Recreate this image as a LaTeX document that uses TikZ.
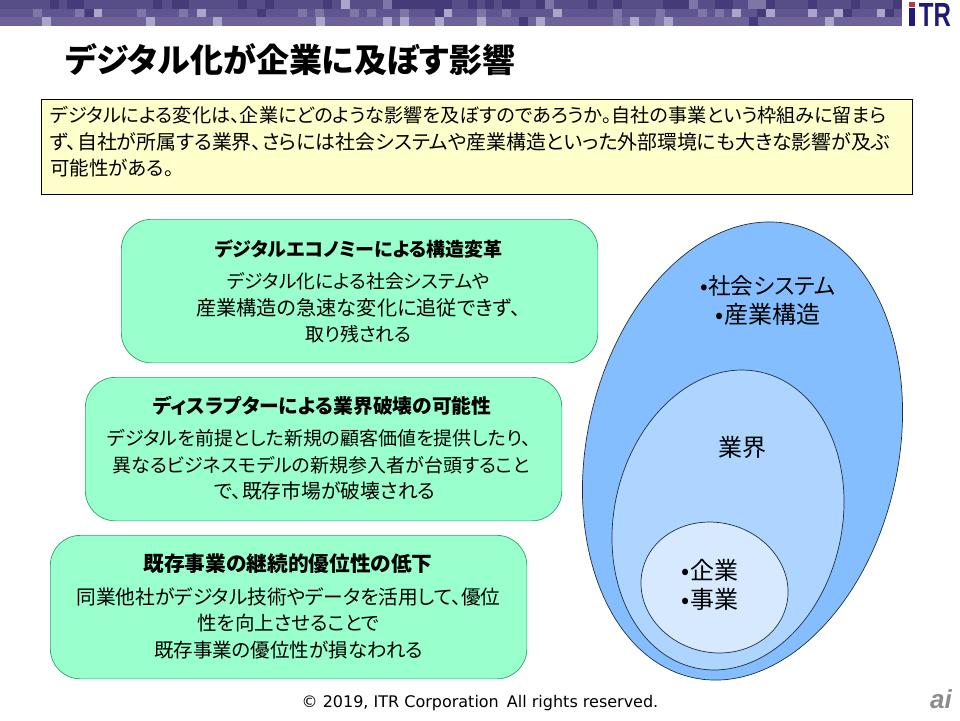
\documentclass[tikz,border=0pt]{standalone}
\usepackage{fontspec}
\setmainfont[RawFeature=+palt]{Noto Sans CJK JP}
\newfontfamily\latinfont{DejaVu Sans}
\newfontfamily\logofont{Liberation Sans}
\usetikzlibrary{shapes.geometric}
\newcommand{\lineSize}[1]{\fontsize{#1pt}{26.5pt}\selectfont}
\definecolor{bandA}{HTML}{574D87}
\definecolor{bandB}{HTML}{5F5590}
\definecolor{bandC}{HTML}{6D6399}
\definecolor{bandD}{HTML}{453B78}
\definecolor{bandM}{HTML}{7F76A8}
\definecolor{bandL}{HTML}{ABA5C9}
\definecolor{noteFill}{HTML}{FFFFCC}
\definecolor{mint}{HTML}{99FFCC}
\definecolor{mintLine}{HTML}{2EA36B}
\definecolor{outerBlue}{HTML}{85BEFF}
\definecolor{midBlue}{HTML}{AED5FF}
\definecolor{innerBlue}{HTML}{D6E9FF}
\definecolor{ringLine}{HTML}{1F2F40}
\definecolor{itrBlue}{HTML}{1F1A78}
\definecolor{itrRed}{HTML}{B5394A}
\tikzset{
  note/.style={draw=black,line width=0.8pt,fill=noteFill,minimum width=871pt,minimum height=95pt,inner sep=0pt},
  panel/.style={draw=mintLine,line width=0.7pt,fill=mint,rounded corners=30pt,minimum width=476.5pt,minimum height=143.5pt,inner sep=0pt},
  ring/.style={ellipse,draw=ringLine,line width=0.7pt,inner sep=0pt},
  body/.style={align=center,font=\fontsize{19.5pt}{26.5pt}\selectfont,inner sep=0pt},
  head/.style={inner sep=0pt},
  ringtext/.style={font=\fontsize{24pt}{29pt}\selectfont,align=center,inner sep=0pt},
}
\begin{document}
\begin{tikzpicture}[x=1pt,y=-1pt]
\useasboundingbox (0,0) rectangle (960,720);
% band
\fill[bandA] (0,0) rectangle (902,8.7);
\fill[bandB] (0,8.7) rectangle (902,17.4);
\fill[bandC] (0,17.4) rectangle (902,26);
\foreach \c in {50,67,75,153,172,180,238,265,323,392,400,409,417,426,434,443,468,485,502,511,536,588,613,663,672,680,715,724,766,808,851,893}
  \fill[bandD] (\c,0) rectangle ++(8.6,8.7);
\foreach \c in {341} \fill[bandL] (\c,0) rectangle ++(8.6,8.7);
\foreach \c in {383,545,689,748,757} \fill[bandM] (\c,0) rectangle ++(8.6,8.7);
\foreach \c in {93,197,443,553,732,766,808,834,877} \fill[bandL] (\c,8.7) rectangle ++(8.6,8.7);
\foreach \c in {33,75,137,179,298,315,350,367,400,477,502,613,656,698,715} \fill[bandM] (\c,8.7) rectangle ++(8.6,8.7);
\foreach \c in {85,257,435,757,843,885} \fill[bandD] (\c,8.7) rectangle ++(8.6,8.7);
\foreach \c in {42,146,213,316,383,400,435,477,536,630,664,825} \fill[bandL] (\c,17.4) rectangle ++(8.6,8.6);
\foreach \c in {519,749} \fill[bandD] (\c,17.4) rectangle ++(8.6,8.6);
\foreach \c in {613,655} \fill[bandM] (\c,17.4) rectangle ++(8.6,8.6);
% logo
\fill[itrRed] (908.5,1.5) rectangle (915,6.5);
\fill[itrBlue] (908.5,8) rectangle (915,26);
\node[font=\fontsize{33.5pt}{33.5pt}\selectfont\logofont\bfseries,text=itrBlue,inner sep=0pt,xscale=0.72,anchor=base] (logo) at (935,26) {TR};
% title
\node[anchor=west,inner sep=0pt,font=\fontsize{33pt}{36pt}\selectfont\bfseries] (title) at (65,60) {デジタル化が企業に及ぼす影響};
% note
\node[note,anchor=north west] (noteBox) at (41,99) {};
\node[anchor=north west,align=left,inner sep=0pt,font=\fontsize{19.5pt}{26.5pt}\selectfont] (noteText) at (50,106) {\lineSize{19.15}デジタルによる変化は、企業にどのような影響を及ぼすのであろうか。自社の事業という枠組みに留まら\\\lineSize{19.9}ず、自社が所属する業界、さらには社会システムや産業構造といった外部環境にも大きな影響が及ぶ\\\lineSize{19.5}可能性がある。};
% panels
\node[panel,anchor=north west] (p1) at (121,219) {};
\node[panel,anchor=north west] (p2) at (85,377) {};
\node[panel,anchor=north west] (p3) at (50,535) {};
\node[head,font=\fontsize{19pt}{24pt}\selectfont\bfseries] (h1) at (358.5,249) {デジタルエコノミーによる構造変革};
\node[body] (b1) at (358.5,308) {\lineSize{18.8}デジタル化による社会システムや\\\lineSize{20.2}産業構造の急速な変化に追従できず、\\\lineSize{18.9}取り残される};
\node[head,font=\fontsize{19.8pt}{24pt}\selectfont\bfseries] (h2) at (322.5,406) {ディスラプターによる業界破壊の可能性};
\node[body] (b2) at (319,465) {\lineSize{19}デジタルを前提とした新規の顧客価値を提供したり、\\\lineSize{19}\hspace*{4pt}異なるビジネスモデルの新規参入者が台頭すること\\\lineSize{19.8}\hspace*{12pt}で、既存市場が破壊される};
\node[head,font=\fontsize{20.7pt}{24pt}\selectfont\bfseries] (h3) at (288,564) {既存事業の継続的優位性の低下};
\node[body] (b3) at (288.5,623) {\lineSize{19.7}同業他社がデジタル技術やデータを活用して、優位\\\lineSize{19.5}性を向上させることで\\\lineSize{19.5}既存事業の優位性が損なわれる};
% ellipses
\node[ring,fill=outerBlue,minimum width=311.4pt,minimum height=464pt,rotate=-12.4] (e1) at (742.5,451) {};
\node[ring,fill=midBlue,minimum width=228pt,minimum height=303pt,rotate=-12.4] (e2) at (728,520) {};
\node[ring,fill=innerBlue,minimum width=148.2pt,minimum height=129.6pt,rotate=-15] (e3) at (714.5,587.5) {};
\node[ringtext] (t1) at (768,300) {\fontsize{22.6pt}{29pt}\selectfont •社会システム\\\fontsize{24pt}{29pt}\selectfont •産業構造};
\node[ringtext] (t2) at (742,447) {業界};
\node[ringtext] (t3) at (710,585) {•企業\\•事業};
% footer
\node[font=\fontsize{16pt}{20pt}\selectfont\latinfont,inner sep=0pt] (foot) at (480,703) {© 2019, ITR Corporation\hspace{3pt} All rights reserved.};
\node[font=\fontsize{26pt}{26pt}\selectfont\logofont\bfseries\itshape,text=black!45,inner sep=0pt] (ai) at (941,699) {ai};
\end{tikzpicture}
\end{document}
